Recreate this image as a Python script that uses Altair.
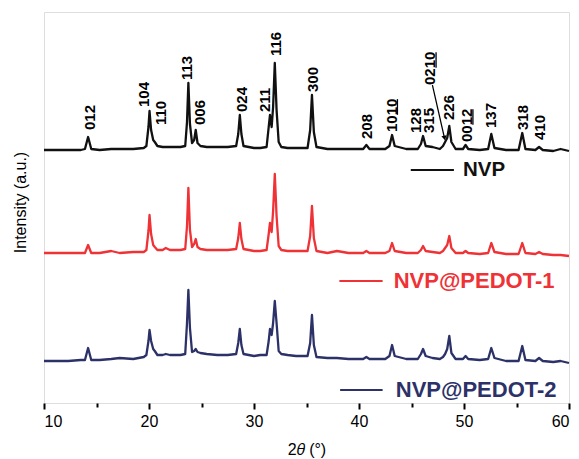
import altair as alt
import pandas as pd

# ---- data (2-theta grid, intensities above each trace's offset) ----
TWO_THETA = [10.0, 11.0, 12.3, 13.5, 13.9, 14.2, 14.5, 15.3, 16.4, 17.2, 18.5, 19.5, 19.75,
             19.95, 20.05, 20.2, 20.4, 20.55, 20.8, 21.3, 21.6, 22.0, 23.0, 23.45, 23.62,
             23.75, 23.9, 24.1, 24.3, 24.45, 24.62, 24.9, 25.5, 26.5, 27.5, 28.3, 28.5,
             28.65, 28.8, 29.0, 30.0, 30.6, 31.2, 31.4, 31.52, 31.68, 31.82, 31.98, 32.15,
             32.35, 32.6, 33.2, 34.0, 35.1, 35.35, 35.52, 35.7, 35.95, 37.0, 37.9, 39.0,
             40.4, 40.7, 41.0, 42.5, 42.9, 43.15, 43.4, 44.5, 45.6, 45.9, 46.1, 46.35, 47.0,
             47.7, 48.0, 48.2, 48.4, 48.6, 48.8, 49.2, 49.9, 50.15, 50.4, 51.5, 52.3, 52.6,
             52.9, 54.0, 55.2, 55.55, 55.85, 56.8, 57.15, 57.5, 58.5, 59.2, 60.0]

NVP = [2, 2, 2, 2, 3, 15, 3, 2, 3, 3, 3, 4, 6,
       25, 41, 22, 12, 10, 6, 5, 5, 5, 5, 6, 30,
       69, 28, 9, 12, 22, 9, 6, 5, 5, 5, 6, 18,
       37, 18, 6, 4, 4, 5, 25, 37, 25, 45, 89, 42,
       10, 5, 4, 4, 4, 22, 57, 20, 5, 3, 3, 3,
       3, 7, 3, 3, 6, 17, 6, 3, 3, 8, 16, 6, 5,
       3, 6, 10, 14, 26, 10, 3, 3, 7, 3, 2, 3, 18,
       4, 2, 2, 19, 3, 2, 5, 2, 1, 3, 1]

PEDOT1 = [3, 3, 3, 3, 3, 11, 3, 3, 5, 3, 4, 4, 6,
          25, 41, 22, 11, 9, 6, 6, 8, 6, 6, 7, 30,
          68, 26, 9, 12, 17, 9, 7, 6, 6, 6, 7, 18,
          33, 17, 7, 5, 5, 6, 22, 33, 24, 45, 82, 40,
          10, 6, 5, 5, 5, 20, 50, 18, 5, 3, 5, 3,
          3, 5, 3, 3, 5, 13, 5, 3, 3, 6, 10, 5, 4,
          3, 5, 8, 11, 20, 8, 3, 3, 5, 3, 2, 3, 13,
          4, 2, 2, 13, 3, 2, 4, 2, 1, 1, 0]

PEDOT2 = [2, 2, 2, 3, 3, 15, 3, 3, 4, 5, 4, 6, 8,
          22, 33, 22, 14, 12, 8, 8, 9, 8, 8, 9, 40,
          73, 35, 11, 12, 14, 11, 10, 9, 8, 8, 9, 20,
          34, 18, 9, 7, 8, 8, 22, 34, 28, 40, 62, 40,
          12, 9, 8, 7, 7, 20, 48, 18, 6, 5, 5, 4,
          4, 6, 4, 4, 7, 18, 7, 4, 4, 9, 14, 7, 5,
          4, 6, 9, 14, 27, 10, 4, 4, 7, 4, 3, 4, 15,
          5, 2, 2, 17, 3, 2, 5, 2, 1, 2, 0]

SERIES = ["NVP", "NVP@PEDOT-1", "NVP@PEDOT-2"]
OFFSETS = [251, 147, 40]
COLORS = ["#111111", "#ee3236", "#2c3268"]

# Miller-index annotations
HKL = ["012", "104", "110", "113", "006", "024", "211", "116", "300", "208",
       "1010", "128", "315", "0210", "226", "0012", "137", "318", "410"]
HKL_X = [14.40, 19.57, 21.17, 23.66, 24.83, 28.85, 31.05, 32.1, 35.62, 40.78,
         43.1, 45.4, 46.62, 46.78, 48.54, 50.29, 52.58, 55.62, 57.27]
HKL_Y = [273, 296, 278, 323, 278, 291, 291, 347, 311, 264,
         271, 270, 270, 318, 283, 261, 275, 273, 263]
# labels whose last two digits ("10", "10", "12") are underlined
UNDERLINED = ["1010", "0210", "0012"]

# arrow pointing to the (0 2 10) shoulder
ARROW = {"t": 46.99, "y": 318, "t2": 48.14, "y2": 265}

# legend (short line + name under each trace)
LEG_T1 = [44.93, 38.13, 38.2]
LEG_T2 = [49.04, 42.25, 42.25]
LEG_Y = [233, 122, 13]
LEG_TXT_T = [49.9, 43.3, 43.5]
LEG_SIZE = [20.5, 22, 22]

rows = []
for name, vals, off in zip(SERIES, [NVP, PEDOT1, PEDOT2], OFFSETS):
    for t, v in zip(TWO_THETA, vals):
        rows.append({"series": name, "t": t, "y": v + off})
df = pd.DataFrame(rows)

LABEL_SIZE = 15
CHAR_W = LABEL_SIZE * 0.556  # digit advance, in y units (1 unit = 1 px)

lab = pd.DataFrame({"t": HKL_X, "y": HKL_Y, "txt": HKL})
ul_rows = []
for txt, t, y in zip(HKL, HKL_X, HKL_Y):
    if txt in UNDERLINED:
        ul_rows.append({"t": t + 0.56, "y": y + 2 * CHAR_W + 0.5, "y2": y + 4 * CHAR_W - 0.5})
ul = pd.DataFrame(ul_rows)
arr = pd.DataFrame([ARROW])
leg = pd.DataFrame({"series": SERIES, "t": LEG_T1, "t2": LEG_T2, "y": LEG_Y,
                    "tt": LEG_TXT_T, "fs": LEG_SIZE})

FONT = "Liberation Sans"

xscale = alt.Scale(domain=[10, 60], nice=False, zero=False)
yscale = alt.Scale(domain=[0, 391], nice=False, zero=False)

xaxis = alt.Axis(
    values=list(range(10, 61, 5)),
    labelExpr="datum.value % 10 === 0 ? datum.label : ''",
    tickSize={"condition": {"test": "datum.value % 10 === 0", "value": 6}, "value": 4},
    tickWidth=2, tickColor="black", domain=False, grid=False,
    labelFontSize=16, labelColor="black", labelFont=FONT, labelPadding=4,
    title="2\U0001D703 (\u00b0)", titleFontSize=16, titleFontWeight="normal",
    titleFont=FONT, titleColor="black", titlePadding=12,
)
yaxis = alt.Axis(
    labels=False, ticks=False, domain=False, grid=False,
    title="Intensity (a.u.)", titleFontSize=16, titleFontWeight="normal",
    titleFont=FONT, titleColor="black", titleAngle=270,
    titleX=-24, titleY=190, titleAlign="center", titleBaseline="middle",
)

X = alt.X("t:Q", scale=xscale, axis=xaxis)
Y = alt.Y("y:Q", scale=yscale, axis=yaxis)
color = alt.Color("series:N", scale=alt.Scale(domain=SERIES, range=COLORS), legend=None)

lines = alt.Chart(df).mark_line(strokeWidth=2.3, interpolate="linear",
                                strokeJoin="round").encode(
    x=X, y=Y, color=color, detail="series:N")

labels = alt.Chart(lab).mark_text(
    angle=270, align="left", baseline="middle", font=FONT, fontSize=LABEL_SIZE,
    fontWeight="bold", color="black").encode(x=X, y=Y, text="txt:N")

underlines = alt.Chart(ul).mark_rule(color="black", strokeWidth=1.3).encode(
    x=X, y=Y, y2="y2:Q")

arrow = alt.Chart(arr).mark_rule(color="black", strokeWidth=1.2).encode(
    x=X, y=Y, x2="t2:Q", y2="y2:Q")
head = alt.Chart(arr).mark_point(
    shape="triangle-down", angle=347, size=28, filled=True, color="black", opacity=1
).encode(x=alt.X("t2:Q", scale=xscale, axis=xaxis), y=alt.Y("y2:Q", scale=yscale, axis=yaxis))

leg_rules = alt.Chart(leg).mark_rule(strokeWidth=2).encode(
    x=X, x2="t2:Q", y=Y, color=color)
leg_text = alt.Chart(leg).mark_text(
    align="left", baseline="middle", font=FONT, fontWeight="bold").encode(
    x=alt.X("tt:Q", scale=xscale, axis=xaxis), y=Y, text="series:N", color=color,
    size=alt.Size("fs:Q", scale=None, legend=None))

chart = alt.layer(lines, labels, underlines, arrow, head, leg_rules, leg_text).properties(
    width=525, height=391,
    autosize=alt.AutoSizeParams(type="none"),
    padding={"left": 44, "top": 12, "right": 10, "bottom": 56},
).configure_view(stroke="black", strokeWidth=2).configure(background="white")

chart.save("out.html", embed_options={"renderer": "svg", "actions": False})
